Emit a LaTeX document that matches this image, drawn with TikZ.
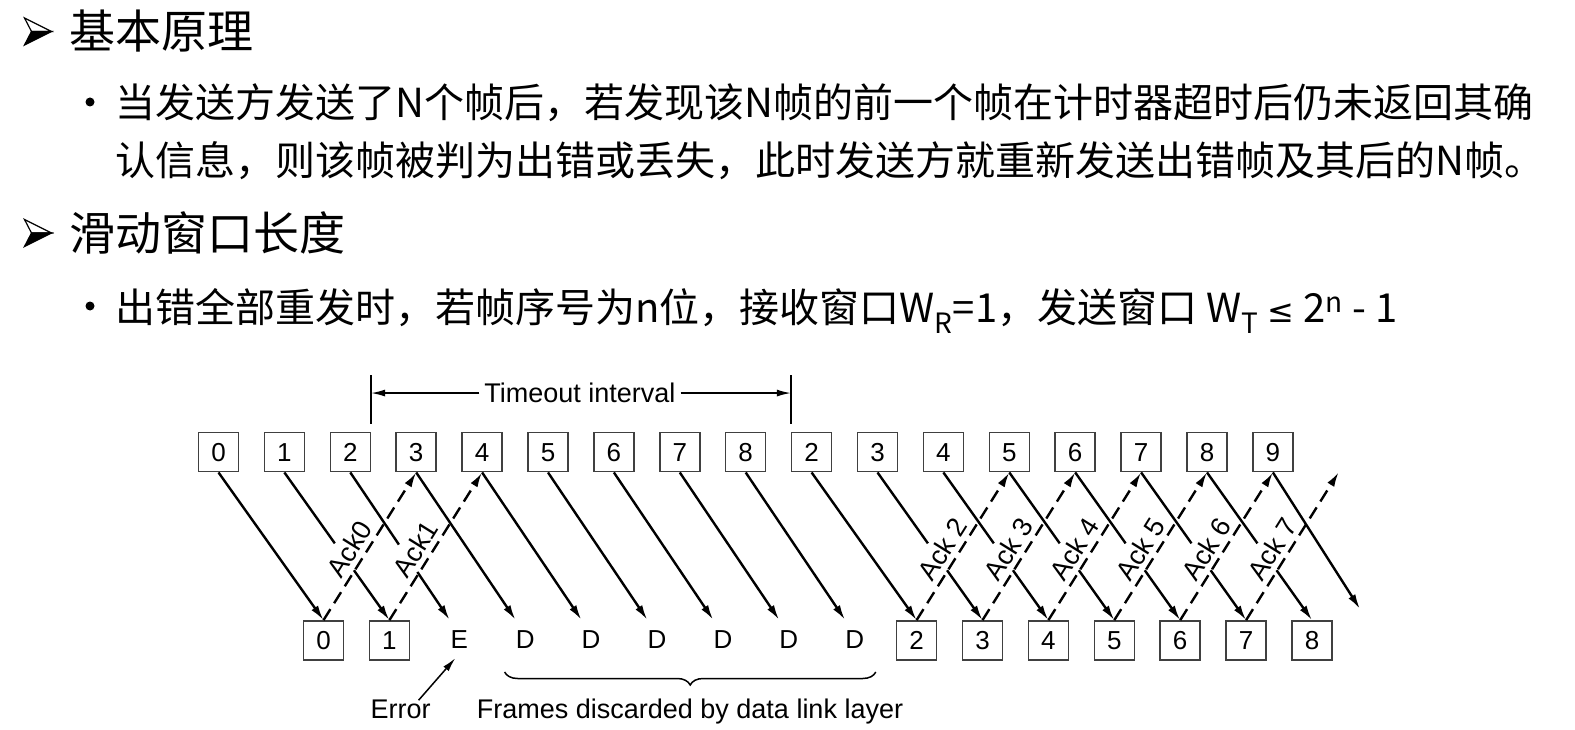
\documentclass[tikz,border=0pt]{standalone}
\usepackage{fontspec}
\setmainfont{Liberation Sans}
\newfontfamily\cjk{Noto Sans CJK SC}
\newfontfamily\sym{DejaVu Sans}
\usetikzlibrary{arrows.meta,calc,decorations.pathreplacing}
\tikzset{
  fr/.style={draw=black!75, line width=1.5pt, minimum width=40pt, minimum height=39pt,
             inner sep=0pt, font=\fontsize{26}{26}\selectfont},
  lost/.style={minimum width=19pt, minimum height=40pt, inner sep=0pt, font=\fontsize{26}{26}\selectfont},
  send/.style={line width=2.4pt, -{Latex[length=15pt,width=8pt]}},
  gapped/.style={dash pattern=on 87pt off 33pt on 400pt},
  ack/.style={send, dash pattern=on 13pt off 7pt},
  acklbl/.style={rotate=58, inner sep=0pt, font=\fontsize{27}{27}\selectfont},
  note/.style={anchor=base, inner sep=0pt, font=\fontsize{27}{27}\selectfont},
  thinarr/.style={line width=1.5pt, -{Latex[length=14pt,width=7pt]}},
  hd/.style={anchor=base west, inner sep=0pt, font=\cjk\fontsize{46}{46}\selectfont},
  txt/.style={anchor=base west, inner sep=0pt, font=\cjk\fontsize{40}{40}\selectfont},
  harrow/.pic={
    \filldraw[fill=white, line width=1.2pt] (-13,-13.5) -- (14,0) -- (-6,0) -- cycle;
    \filldraw[fill=black, line width=1.2pt] (-6,0) -- (14,0) -- (-13,13.5) -- cycle;
  }
}

\begin{document}
\begin{tikzpicture}[x=1pt,y=-1pt]
\fill[white] (0,0) rectangle (1575,730);
\useasboundingbox (0,0) rectangle (1575,730);

% slide text
\pic at (37.5,31.5) {harrow};
\node[hd] (h1) at (69,48.5) {基本原理};
\fill (90,102) circle (4.5);
\node[txt] (l1) at (115,118) {当发送方发送了N个帧后，若发现该N帧的前一个帧在计时器超时后仍未返回其确};
\node[txt] (l2) at (115,176) {认信息，则该帧被判为出错或丢失，此时发送方就重新发送出错帧及其后的N帧。};
\pic at (37.5,233) {harrow};
\node[hd] (h2) at (69,250.5) {滑动窗口长度};
\fill (90,306) circle (4.5);
\node[txt] (l4) at (115,322) {出错全部重发时，若帧序号为n位，接收窗口W\textsubscript{R}=1，发送窗口 W\textsubscript{T} {\sym\fontsize{32}{32}\selectfont ≤} 2\textsuperscript{n} - 1};

% sender frames
\foreach \n [count=\i from 0] in {0,1,2,3,4,5,6,7,8,2,3,4,5,6,7,8,9}
  \node[fr] (t\i) at ({218.5+65.9*\i},452.2) {\n};

% receiver side
\node[fr] (b0) at (323.5,640.4) {0};
\node[fr] (b1) at (389.4,640.4) {1};
\foreach \l [count=\k from 2] in {E,D,D,D,D,D,D}
  \node[lost] (b\k) at ({327.5+65.9*\k},640) {\l};
\foreach \n [count=\k from 9] in {2,...,8}
  \node[fr] (b\k) at ({323.5+65.9*\k},640.4) {\n};
\coordinate (lastfr) at (1360,609);
\coordinate (lastack) at (1338.8,472);

% timeout
\node[note] (tmo) at (580,402.7) {Timeout interval};
\draw[line width=1.5pt] ($(t2.north east)+(0,-8)$) -- ($(t2.north east)+(0,-57)$);
\draw[line width=1.5pt] ($(t9.north west)+(0,-8)$) -- ($(t9.north west)+(0,-57)$);
\draw[thinarr] ($(tmo.west)+(-5,0)$) -- ($(tmo.west -| t2.east)$);
\draw[thinarr] ($(tmo.east)+(5,0)$) -- ($(tmo.east -| t9.west)$);

% frames
\foreach \k in {0,9}
  \draw[send] (t\k.south) -- (b\k.north);
\foreach \k in {1,10,11,12,13,14,15}
  \draw[send,gapped] (t\k.south) -- (b\k.north);
\draw[send,gapped] (t2.south) -- (b2.north west);
\foreach \k in {3,...,8}
  \draw[send] (t\k.south) -- (b\k.north west);
\draw[send] (t16.south) -- (lastfr);

% acknowledgements
\foreach \s/\e/\l in {0/t3.south/Ack0, 1/t4.south/Ack1, 9/t12.south/Ack 2, 10/t13.south/Ack 3,
                      11/t14.south/Ack 4, 12/t15.south/Ack 5, 13/t16.south/Ack 6, 14/lastack/Ack 7}{
  \draw[ack] (b\s.north) -- (\e);
  \node[acklbl] at ($(b\s.north)+(26,-71)$) {\l};
}

% error and discarded frames
\node[note] (err) at (400.6,718) {Error};
\draw[thinarr] ($(err.north)+(18,1)$) -- ($(b2.south)+(-4,-2)$);
\draw[line width=1.5pt, decorate, decoration={brace,mirror,amplitude=13pt}] (504.6,672) -- (875.8,672);
\node[note] (disc) at (690,718) {Frames discarded by data link layer};
\end{tikzpicture}
\end{document}
